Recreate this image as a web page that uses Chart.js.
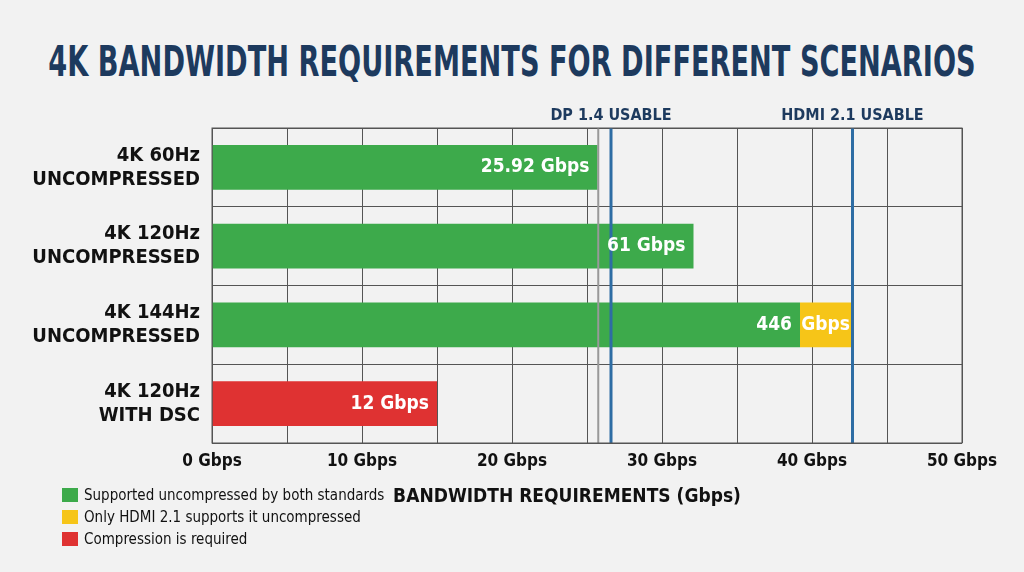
<!DOCTYPE html>
<html><head><meta charset="utf-8">
<script src="https://cdn.jsdelivr.net/npm/chart.js@4"></script>
<style>
body{margin:0;background:#f2f2f2;width:1024px;height:572px;overflow:hidden;font-family:'DejaVu Sans Condensed','Liberation Sans Narrow',sans-serif;}
#t{position:absolute;left:512px;top:38px;width:max-content;font-size:42px;line-height:48px;font-weight:bold;color:#1d3a5e;white-space:nowrap;transform:translateX(-50%) scaleX(0.72);transform-origin:center;}
#c{position:absolute;left:0;top:0;}
.lg{position:absolute;left:62px;font-size:15px;color:#111;}
.lg span{display:inline-block;width:16px;height:14px;vertical-align:-2px;margin-right:6px;}
</style></head><body>
<div id="t">4K BANDWIDTH REQUIREMENTS FOR DIFFERENT SCENARIOS</div>
<canvas id="c" width="1024" height="572"></canvas>
<div class="lg" style="top:486px"><span style="background:#3daa4b"></span>Supported uncompressed by both standards</div>
<div class="lg" style="top:508px"><span style="background:#f6c518"></span>Only HDMI 2.1 supports it uncompressed</div>
<div class="lg" style="top:530px"><span style="background:#df3232"></span>Compression is required</div>
<script>
const categories=[["4K 60Hz","UNCOMPRESSED"],["4K 120Hz","UNCOMPRESSED"],["4K 144Hz","UNCOMPRESSED"],["4K 120Hz","WITH DSC"]];
const greenValues=[25.7,32.1,39.2,0];
const yellowValues=[0,0,3.4,0];
const redValues=[0,0,0,15];
const valueLabels=["25.92 Gbps","61 Gbps","446","12 Gbps"];
const refLines=[{v:25.75,label:"",color:"#999"},{v:26.6,label:"DP 1.4 USABLE",color:"#2e6da4"},{v:42.7,label:"HDMI 2.1 USABLE",color:"#2e6da4"}];
const F="'DejaVu Sans Condensed','Liberation Sans Narrow',sans-serif";
const plug={id:'p',afterDatasetsDraw(ch){
 const c=ch.ctx,x=ch.scales.x,a=ch.chartArea;
 c.save();
 refLines.forEach(r=>{const px=x.getPixelForValue(r.v);c.strokeStyle=r.color;c.lineWidth=r.label?3:2;
  c.beginPath();c.moveTo(px,a.top);c.lineTo(px,a.bottom);c.stroke();
  if(r.label){c.fillStyle='#1d3a5e';c.font='bold 16px '+F;c.textAlign='center';c.textBaseline='bottom';c.fillText(r.label,px,a.top-4);}});
 c.font='bold 19px '+F;c.fillStyle='#fff';c.textBaseline='middle';c.textAlign='right';
 categories.forEach((k,i)=>{const y=ch.scales.y.getPixelForValue(i);
  const end=greenValues[i]+redValues[i];c.fillText(valueLabels[i],x.getPixelForValue(end)-8,y);
  if(yellowValues[i]){c.textAlign='center';c.fillText('Gbps',x.getPixelForValue(greenValues[i]+yellowValues[i]/2),y);c.textAlign='right';}});
 c.fillStyle='#111';c.font='bold 19px '+F;c.textAlign='center';c.textBaseline='middle';
 c.fillText('BANDWIDTH REQUIREMENTS (Gbps)',(a.left+a.right)/2-20,497);
 c.strokeStyle='#555';c.lineWidth=1;c.strokeRect(a.left,a.top,a.right-a.left,a.bottom-a.top);
 c.restore();}};
new Chart(document.getElementById('c'),{type:'bar',
 data:{labels:categories,datasets:[
  {data:greenValues,backgroundColor:'#3daa4b'},
  {data:yellowValues,backgroundColor:'#f6c518'},
  {data:redValues,backgroundColor:'#df3232'}]},
 options:{indexAxis:'y',responsive:false,animation:false,devicePixelRatio:1,
  barPercentage:0.57,categoryPercentage:1,
  layout:{padding:{left:12,right:62,top:128,bottom:0}},
  plugins:{legend:{display:false},tooltip:{enabled:false}},
  scales:{
   x:{stacked:true,min:0,max:50,ticks:{stepSize:5,autoSkip:false,maxRotation:0,color:'#111',font:{family:F,size:17,weight:'bold'},padding:8,callback:v=>v%10===0?v+' Gbps':''},
      grid:{color:'#555',drawTicks:false},border:{display:false},afterFit:s=>{s.height=129;}},
   y:{stacked:true,ticks:{color:'#111',font:{family:F,size:20,weight:'bold'},padding:12},
      grid:{color:'#555',drawTicks:false,offset:true},border:{display:false},afterFit:s=>{s.width=200;}}
  }},plugins:[plug]});
</script></body></html>
